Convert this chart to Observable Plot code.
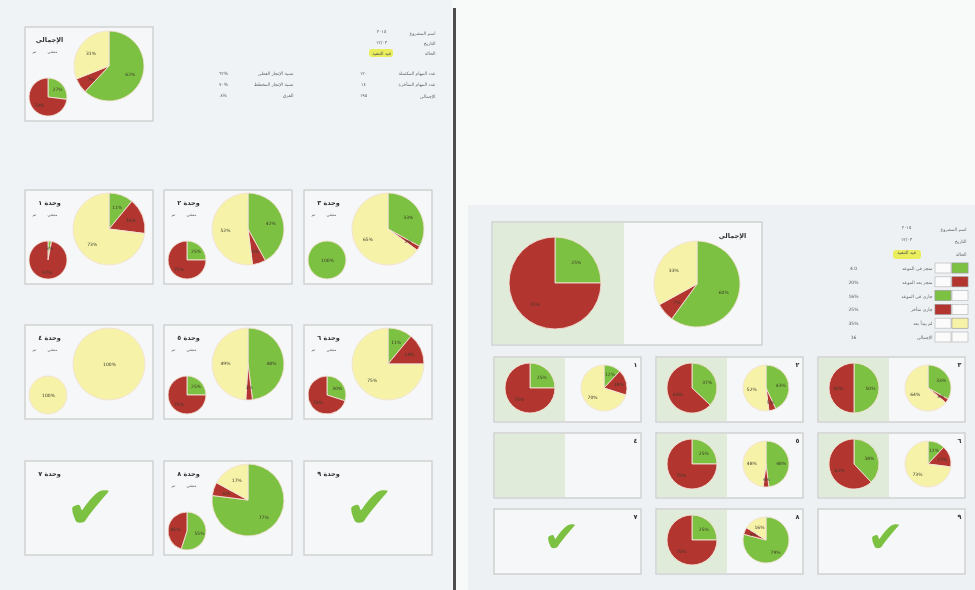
<!DOCTYPE html>
<html><head><meta charset="utf-8">
<script src="https://cdn.jsdelivr.net/npm/d3@7"></script>
<script src="https://cdn.jsdelivr.net/npm/@observablehq/plot@0.6"></script>
<style>
body{margin:0;background:#f8f9f9;}
#chart svg{display:block;filter:blur(0.45px);}
</style>
</head><body><div id="chart"></div>
<script>
// ---------- data ----------
const categories = ["مكتمل", "متأخر", "لم يبدأ"];
const categoryColors = ["#7dc142", "#b3352f", "#f6f2a8"];

// left page: panel 0 = summary, 1..9 = grid (row by row)
const leftTitles = ["الإجمالي", "وحدة ١", "وحدة ٢", "وحدة ٣", "وحدة ٤", "وحدة ٥", "وحدة ٦", "وحدة ٧", "وحدة ٨", "وحدة ٩"];
const leftBig = [[62, 7, 31], [11, 16, 73], [42, 6, 52], [33, 2, 65], [0, 0, 100], [48, 3, 49], [11, 14, 75], null, [77, 6, 17], null];
const leftSmall = [[27, 73, 0], [3, 97, 0], [25, 75, 0], [100, 0, 0], [0, 0, 100], [25, 75, 0], [30, 70, 0], null, [55, 45, 0], null];
const leftChecked = [false, false, false, false, false, false, false, true, false, true];

const infoLabels = ["اسم المشروع", "التاريخ", "الحالة"];
const infoValues = ["٢٠١٥", "١٢/٠٣", "قيد التنفيذ"];
const summaryLabelsA = ["نسبة الإنجاز الفعلي", "نسبة الإنجاز المخطط", "الفرق"];
const summaryValuesA = ["٦٢%", "٧٠%", "٨%"];
const summaryLabelsB = ["عدد المهام المكتملة", "عدد المهام المتأخرة", "الإجمالي"];
const summaryValuesB = ["١٢٠", "١٤", "١٩٥"];
const miniLegend = ["تم", "متبقي"];

// right page
const rightTopTitle = "الإجمالي";
const rightTopA = [25, 75, 0];
const rightTopB = [60, 7, 33];
const rightBadges = ["١", "٢", "٣", "٤", "٥", "٦", "٧", "٨", "٩"];
const rightA = [[25, 75, 0], [37, 63, 0], [50, 50, 0], null, [25, 75, 0], [38, 62, 0], null, [25, 75, 0], null];
const rightB = [[12, 18, 70], [43, 5, 52], [33, 3, 64], null, [48, 4, 48], [12, 15, 73], null, [79, 5, 16], null];
const rightChecked = [false, false, false, false, false, false, true, false, true];

const legendHeadLabels = ["اسم المشروع", "التاريخ", "الحالة"];
const legendHeadValues = ["٢٠١٥", "١٢/٠٣", "قيد التنفيذ"];
const legendLabels = ["منجز في الموعد", "منجز بعد الموعد", "جاري في الموعد", "جاري متأخر", "لم يبدأ بعد", "الإجمالي"];
const legendValues = ["4.0", "20%", "16%", "25%", "35%", "16"];
const legendSwatchCat = ["مكتمل", "متأخر", "مكتمل", "متأخر", "لم يبدأ", null];
const legendSwatchCol = [1, 1, 0, 0, 1, null];

// ---------- layout ----------
const W = 975, H = 590;
const LP = {top: [25, 27], cols: [25, 164, 304], rows: [190, 325, 461], w: 128, h: 94};
const leftOrigins = [LP.top, ...LP.rows.flatMap(y => LP.cols.map(x => [x, y]))];
const RP = {top: {x: 492, y: 222, w: 270, h: 123, tint: 133}, cols: [494, 656, 818], rows: [357, 433, 509], w: 147, h: 65, tint: 72};
const rightOrigins = RP.rows.flatMap(y => RP.cols.map(x => [x, y]));

const slices = [], sliceLabels = [];
function addPie(cx, cy, r, values) {
  if (!values) return;
  const total = d3.sum(values);
  const arcs = d3.pie().sort(null)(values);
  arcs.forEach((a, k) => {
    if (!values[k]) return;
    slices.push({cx, cy, r, a0: a.startAngle, a1: a.endAngle, cat: categories[k]});
    const full = values[k] === total;
    const m = (a.startAngle + a.endAngle) / 2, lr = full ? 0 : r * 0.64;
    sliceLabels.push({x: cx + lr * Math.sin(m), y: cy - lr * Math.cos(m), text: values[k] + "%"});
  });
}

// text groups: titles (bold, centred), labels (right-aligned), values (centred), tiny (centred)
const titles = [], labels = [], values = [], tiny = [];
const panels = [], tints = [], checks = [];
leftOrigins.forEach(([x, y], i) => {
  panels.push({x1: x, x2: x + LP.w, y1: y, y2: y + LP.h});
  titles.push({x: x + 24, y: y + 12, text: leftTitles[i]});
  if (leftChecked[i]) { checks.push({x: x + 65, y: y + 47, size: 60}); return; }
  tiny.push({x: x + 9, y: y + 24, text: miniLegend[0]});
  tiny.push({x: x + 27, y: y + 24, text: miniLegend[1]});
  addPie(x + 84, y + 39, i === 0 ? 35 : 36, leftBig[i]);
  addPie(x + 23, y + 70, 19, leftSmall[i]);
});

panels.push({x1: RP.top.x, x2: RP.top.x + RP.top.w, y1: RP.top.y, y2: RP.top.y + RP.top.h});
tints.push({x1: RP.top.x, x2: RP.top.x + RP.top.tint, y1: RP.top.y, y2: RP.top.y + RP.top.h});
titles.push({x: RP.top.x + 240, y: RP.top.y + 13, text: rightTopTitle});
addPie(RP.top.x + 63, RP.top.y + 61, 46, rightTopA);
addPie(RP.top.x + 205, RP.top.y + 62, 43, rightTopB);

rightOrigins.forEach(([x, y], i) => {
  panels.push({x1: x, x2: x + RP.w, y1: y, y2: y + RP.h});
  titles.push({x: x + 141, y: y + 7, text: rightBadges[i]});
  if (rightChecked[i]) { checks.push({x: x + 67, y: y + 28, size: 44}); return; }
  tints.push({x1: x, x2: x + RP.tint, y1: y, y2: y + RP.h});
  addPie(x + 36, y + 31, 25, rightA[i]);
  addPie(x + 110, y + 31, 23, rightB[i]);
});

// left info block
infoLabels.forEach((t, k) => labels.push({x: 435, y: 33 + k * 10, text: t}));
infoValues.forEach((t, k) => values.push({x: 381, y: 31 + k * 11, text: t}));
summaryLabelsB.forEach((t, k) => labels.push({x: 435, y: 73 + k * 11.5, text: t}));
summaryValuesB.forEach((t, k) => values.push({x: 363, y: 73 + k * 11, text: t}));
summaryLabelsA.forEach((t, k) => labels.push({x: 293, y: 73 + k * 11, text: t}));
summaryValuesA.forEach((t, k) => values.push({x: 223, y: 73 + k * 11, text: t}));
const highlights = [{x1: 369, x2: 393, y1: 49, y2: 57}, {x1: 893, x2: 921, y1: 250, y2: 259}];

// right legend
legendHeadLabels.forEach((t, k) => labels.push({x: 966, y: 229 + k * 12.5, text: t}));
legendHeadValues.forEach((t, k) => values.push({x: 906, y: 227 + k * 12.5, text: t}));
const legendRowsY = legendLabels.map((_, k) => 268 + k * 13.8);
const swatchBoxes = [], swatchFills = [];
legendLabels.forEach((t, k) => {
  const yc = legendRowsY[k];
  labels.push({x: 932, y: yc, text: t});
  values.push({x: 853, y: yc, text: legendValues[k]});
  [0, 1].forEach(c => swatchBoxes.push({x1: 935 + c * 17, x2: 951 + c * 17, y1: yc - 5, y2: yc + 5}));
  if (legendSwatchCat[k]) {
    const c = legendSwatchCol[k];
    swatchFills.push({x1: 935 + c * 17, x2: 951 + c * 17, y1: yc - 5, y2: yc + 5, cat: legendSwatchCat[k]});
  }
});

// ---------- pie render mark ----------
function pieMark(data) {
  return (index, scales) => {
    const color = scales.color ?? (c => categoryColors[categories.indexOf(c)]);
    const g = d3.create("svg:g");
    const arc = d3.arc();
    for (const s of data) {
      const cx = scales.x(s.cx), cy = scales.y(s.cy);
      const r = Math.abs(scales.x(s.cx + s.r) - cx);
      g.append("path")
        .attr("transform", `translate(${cx},${cy})`)
        .attr("d", arc({innerRadius: 0, outerRadius: r, startAngle: s.a0, endAngle: s.a1}))
        .attr("fill", color(s.cat))
        .attr("stroke", "#f3e2d6")
        .attr("stroke-width", 0.9);
    }
    return g.node();
  };
}

const box = {x1: "x1", x2: "x2", y1: "y1", y2: "y2"};
const chart = Plot.plot({
  width: W, height: H, margin: 0,
  x: {domain: [0, W], range: [0, W], axis: null},
  y: {domain: [0, H], range: [0, H], axis: null},
  color: {domain: categories, range: categoryColors, legend: false},
  style: {fontFamily: "DejaVu Sans", background: "#f8f9f9"},
  marks: [
    // page backgrounds
    Plot.rect([{x1: 0, x2: 452, y1: 0, y2: H}], {...box, fill: "#f0f3f6"}),
    Plot.rect([{x1: 468, x2: W, y1: 205, y2: H}], {...box, fill: "#eef1f3"}),
    Plot.ruleX([454], {y1: 8, y2: H, stroke: "#4d4d4d", strokeWidth: 3}),
    // panels
    Plot.rect(panels, {...box, fill: "#f6f7f8", stroke: "#c9c9c9", strokeWidth: 1.2}),
    Plot.rect(tints, {...box, fill: "#dfe9d6", fillOpacity: 0.9, inset: 1}),
    // highlights and legend swatches
    Plot.rect(highlights, {...box, fill: "#eaee5c", rx: 3}),
    Plot.rect(swatchBoxes, {...box, fill: "#fbfbfb", stroke: "#bbb", strokeWidth: 0.7}),
    Plot.rect(swatchFills, {...box, fill: "cat", stroke: "#999", strokeWidth: 0.5}),
    // pies
    pieMark(slices),
    Plot.text(sliceLabels, {x: "x", y: "y", text: "text", fontSize: 4.5, fill: "#3a3a2a"}),
    // checkmarks
    Plot.text(checks, {x: "x", y: "y", text: () => "✔", fontSize: "size", fill: "#7cc142", lineAnchor: "middle", fontFamily: "DejaVu Sans"}),
    // texts
    Plot.text(titles, {x: "x", y: "y", text: "text", fontSize: 6.5, fontWeight: "bold", textAnchor: "middle", fill: "#333"}),
    Plot.text(labels, {x: "x", y: "y", text: "text", fontSize: 4.5, textAnchor: "end", fill: "#666"}),
    Plot.text(values, {x: "x", y: "y", text: "text", fontSize: 4.5, textAnchor: "middle", fill: "#555"}),
    Plot.text(tiny, {x: "x", y: "y", text: "text", fontSize: 4, textAnchor: "middle", fill: "#666"})
  ]
});
document.getElementById("chart").appendChild(chart);
</script>
</body></html>
